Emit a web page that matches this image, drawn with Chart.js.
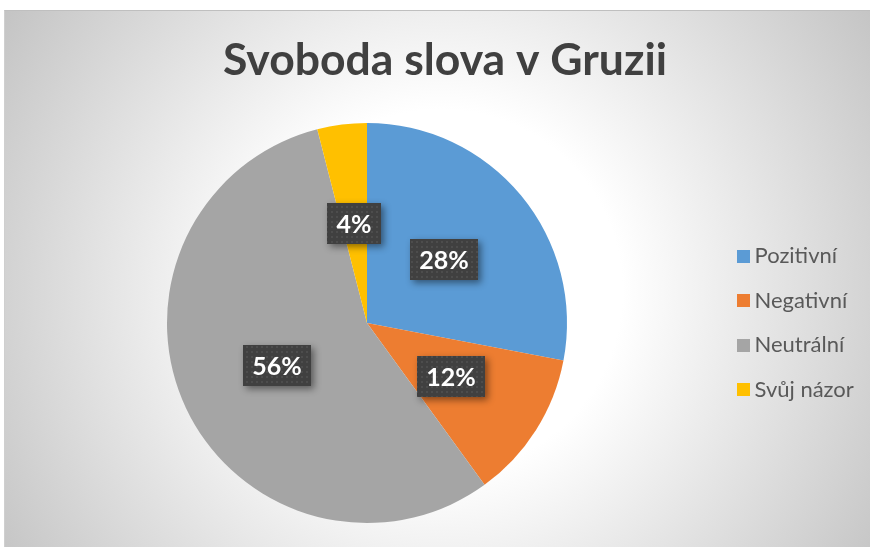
<!DOCTYPE html>
<html>
<head>
<meta charset="utf-8">
<title>Svoboda slova v Gruzii</title>
<script src="https://cdn.jsdelivr.net/npm/chart.js@4.4.0/dist/chart.umd.min.js"></script>
<style>
  html, body { margin: 0; padding: 0; overflow: hidden; background: #fff; }
  #bg {
    position: absolute; left: 4px; top: 10px; width: 866px; height: 537px;
    box-sizing: border-box;
    border-top: 1px solid #bfbfbf; border-left: 1px solid #cfcfcf;
    background: radial-gradient(circle farthest-corner at 436px 280px, #ffffff 0%, #ffffff 35%, #c4c4c4 100%);
  }
  #wrap { position: absolute; left: 0; top: 0; width: 870px; height: 547px; }
</style>
</head>
<body>
<div id="bg"></div>
<div id="wrap"><canvas id="pie" width="870" height="547"></canvas></div>
<script>
var title = 'Svoboda slova v Gruzii';
var categories = ['Pozitivní', 'Negativní', 'Neutrální', 'Svůj názor'];
var values = [28, 12, 56, 4];
var colors = ['#5B9BD5', '#ED7D31', '#A5A5A5', '#FFC000'];

// square legend markers (drawn as point style images)
function swatch(color) {
    var c = document.createElement('canvas');
    c.width = 13;
    c.height = 13;
    var g = c.getContext('2d');
    g.fillStyle = color;
    g.fillRect(0, 0, 13, 13);
    return c;
}
var swatches = colors.map(swatch);

// faint dotted texture for the label boxes
var dotCanvas = document.createElement('canvas');
dotCanvas.width = 5;
dotCanvas.height = 5;
var dg = dotCanvas.getContext('2d');
dg.fillStyle = 'rgba(255,255,255,0.07)';
dg.fillRect(1, 1, 2, 2);

// empty box on the right so the title sits centred on the whole panel
var rightSpacer = {
    id: 'rightSpacer',
    beforeInit: function(chart) {
        Chart.layouts.addBox(chart, {
            position: 'right',
            weight: 2000,
            fullSize: false,
            options: {},
            width: 0, height: 0, left: 0, top: 0, right: 0, bottom: 0,
            isHorizontal: function() { return false; },
            update: function(maxWidth, maxHeight) {
                this.width = 16;
                this.height = maxHeight;
            },
            draw: function() {}
        });
    }
};

// dark data label boxes
var labelBoxes = {
    id: 'labelBoxes',
    afterDatasetsDraw: function(chart) {
        var ctx = chart.ctx;
        var meta = chart.getDatasetMeta(0);
        var dots = ctx.createPattern(dotCanvas, 'repeat');
        ctx.save();
        ctx.font = 'bold 25px Lato';
        meta.data.forEach(function(arc, i) {
            var p = arc.tooltipPosition();
            var text = values[i] + '%';
            var w = Math.round(ctx.measureText(text).width + 19);
            var h = 41;
            var x = Math.round(p.x - w / 2);
            var y = Math.round(p.y - h / 2);

            ctx.save();
            ctx.shadowColor = 'rgba(0,0,0,0.45)';
            ctx.shadowBlur = 7;
            ctx.shadowOffsetX = 3;
            ctx.shadowOffsetY = 3;
            ctx.fillStyle = '#404040';
            ctx.fillRect(x, y, w, h);
            ctx.restore();

            ctx.fillStyle = dots;
            ctx.fillRect(x, y, w, h);

            ctx.fillStyle = '#ffffff';
            ctx.textAlign = 'center';
            ctx.textBaseline = 'alphabetic';
            ctx.fillText(text, x + w / 2, y + h / 2 + 9.5);
        });
        ctx.restore();
    }
};

new Chart(document.getElementById('pie'), {
    type: 'pie',
    data: {
        labels: categories,
        datasets: [{
            data: values,
            backgroundColor: colors,
            borderWidth: 0
        }]
    },
    options: {
        responsive: false,
        animation: false,
        devicePixelRatio: 1,
        layout: {
            padding: { left: 14, right: -6, top: 0, bottom: 24 }
        },
        plugins: {
            title: {
                display: true,
                text: title,
                color: '#404040',
                font: { family: 'Lato', size: 44.5, weight: 'bold', lineHeight: 1.2 },
                padding: { top: 34.1, bottom: 35.5 }
            },
            legend: {
                position: 'right',
                fullSize: false,
                maxWidth: 140,
                labels: {
                    usePointStyle: true,
                    pointStyleWidth: 1,
                    padding: 22.5,
                    color: '#595959',
                    font: { family: 'Lato', size: 22 },
                    generateLabels: function(chart) {
                        var items = Chart.overrides.doughnut.plugins.legend.labels.generateLabels(chart);
                        items.forEach(function(item, i) {
                            item.pointStyle = swatches[i];
                        });
                        return items;
                    }
                }
            },
            tooltip: { enabled: false }
        }
    },
    plugins: [rightSpacer, labelBoxes]
});
</script>
</body>
</html>
